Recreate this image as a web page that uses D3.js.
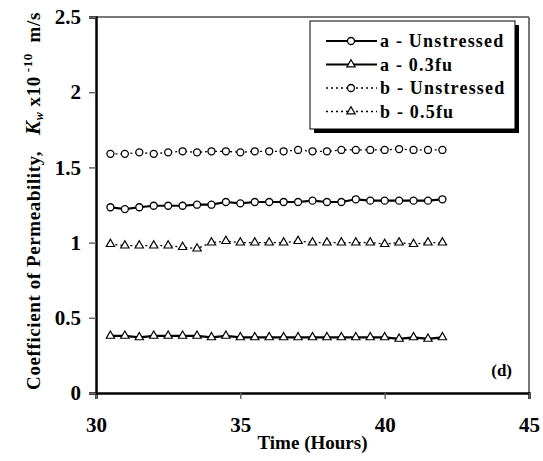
<!DOCTYPE html>
<meta charset="utf-8">
<style>
  body { margin: 0; background: #fff; }
  text { font-family: "Liberation Serif", "Times New Roman", serif; font-weight: bold; white-space: pre; }
</style>
<div id="my_dataviz"></div>
<script src="https://d3js.org/d3.v7.min.js"></script>
<script>

// data
var hours = [30.5, 31, 31.5, 32, 32.5, 33, 33.5, 34, 34.5, 35, 35.5, 36,
             36.5, 37, 37.5, 38, 38.5, 39, 39.5, 40, 40.5, 41, 41.5, 42];
var aUnstressed = [1.235, 1.223, 1.235, 1.245, 1.245, 1.245, 1.252, 1.252, 1.270, 1.261, 1.270, 1.270,
                   1.270, 1.270, 1.279, 1.270, 1.270, 1.288, 1.279, 1.279, 1.279, 1.279, 1.279, 1.288];
var a03fu = [0.38, 0.38, 0.37, 0.38, 0.38, 0.38, 0.38, 0.37, 0.38, 0.37, 0.37, 0.37,
             0.37, 0.37, 0.37, 0.37, 0.37, 0.37, 0.37, 0.37, 0.36, 0.37, 0.36, 0.37];
var bUnstressed = [1.590, 1.590, 1.600, 1.590, 1.600, 1.607, 1.600, 1.607, 1.607, 1.600, 1.607, 1.607,
                   1.607, 1.616, 1.607, 1.607, 1.616, 1.616, 1.616, 1.616, 1.622, 1.616, 1.616, 1.616];
var b05fu = [0.99, 0.98, 0.98, 0.98, 0.98, 0.97, 0.96, 1.00, 1.01, 1.00, 1.00, 1.00,
             1.00, 1.01, 1.00, 1.00, 1.00, 1.00, 1.00, 0.99, 1.00, 0.99, 1.00, 1.00];
var xTicks = [30, 35, 40, 45];
var yTicks = [0, 0.5, 1, 1.5, 2, 2.5];

var series = [
  {name: "a - Unstressed", values: aUnstressed, marker: "circle", dashed: false},
  {name: "a - 0.3fu", values: a03fu, marker: "triangle", dashed: false},
  {name: "b - Unstressed", values: bUnstressed, marker: "circle", dashed: true},
  {name: "b - 0.5fu", values: b05fu, marker: "triangle", dashed: true}
];

var margin = {top: 17, right: 14, bottom: 68, left: 96},
  width = 543 - margin.left - margin.right,
  height = 461 - margin.top - margin.bottom;

var root = d3.select("#my_dataviz")
  .append("svg")
    .attr("width", 543)
    .attr("height", 461);
var svg = root.append("g")
    .attr("transform", "translate(" + margin.left + "," + margin.top + ")");

var x = d3.scaleLinear().domain([30, 45]).range([0, width]);
var y = d3.scaleLinear().domain([0, 2.5]).range([height, 0]);

// grey frame top / right
svg.append("line").attr("x1", 0).attr("x2", width).attr("y1", 0).attr("y2", 0)
  .style("stroke", "#777").style("stroke-width", 2);
svg.append("line").attr("x1", width).attr("x2", width).attr("y1", 0).attr("y2", height)
  .style("stroke", "#777").style("stroke-width", 2);

// axes
var xAxis = svg.append("g")
  .attr("transform", "translate(0," + height + ")")
  .call(d3.axisBottom(x).tickValues(xTicks).tickSize(6).tickPadding(18).tickFormat(d3.format("d")));
var yAxis = svg.append("g")
  .call(d3.axisLeft(y).tickValues(yTicks).tickSize(7).tickPadding(8).tickFormat(function(d) { return d; }));

[xAxis, yAxis].forEach(function(ax) {
  ax.select(".domain").style("stroke", "#000").style("stroke-width", 2.5);
  ax.selectAll(".tick line").style("stroke", "#666").style("stroke-width", 1.5);
  ax.selectAll(".tick text").style("font-size", "21px").style("fill", "#000")
    .style("font-family", "Liberation Serif").style("font-weight", "bold");
});

// lines
var line = d3.line()
  .x(function(d, i) { return x(hours[i]); })
  .y(function(d) { return y(d); });

var tri = d3.symbol().type(d3.symbolTriangle).size(30);

series.forEach(function(s) {
  svg.append("path")
    .datum(s.values)
    .attr("d", line)
    .style("fill", "none")
    .style("stroke", "#000")
    .style("stroke-width", s.dashed ? 1.3 : 2.2)
    .style("stroke-dasharray", s.dashed ? "2,3" : null);

  var g = svg.append("g");
  if (s.marker == "circle") {
    g.selectAll("circle").data(s.values).enter().append("circle")
      .attr("cx", function(d, i) { return x(hours[i]); })
      .attr("cy", function(d) { return y(d); })
      .attr("r", 3.5)
      .style("fill", "#fff").style("stroke", "#000").style("stroke-width", 1.3);
  } else {
    g.selectAll("path").data(s.values).enter().append("path")
      .attr("d", tri)
      .attr("transform", function(d, i) { return "translate(" + x(hours[i]) + "," + y(d) + ")"; })
      .style("fill", "#fff").style("stroke", "#000").style("stroke-width", 1.2);
  }
});

// legend
var lg = root.append("g").attr("transform", "translate(310,21)");
lg.append("rect").attr("x", 4).attr("y", 4).attr("width", 205).attr("height", 108).style("fill", "#000");
lg.append("rect").attr("x", 0).attr("y", 0).attr("width", 205).attr("height", 108)
  .style("fill", "#fff").style("stroke", "#000").style("stroke-width", 1);

series.forEach(function(s, i) {
  var ly = 20 + i * 23.5;
  lg.append("line").attr("x1", 16).attr("x2", 67).attr("y1", ly).attr("y2", ly)
    .style("stroke", "#000")
    .style("stroke-width", s.dashed ? 1.3 : 2.2)
    .style("stroke-dasharray", s.dashed ? "2,3" : null);
  if (s.marker == "circle") {
    lg.append("circle").attr("cx", 41).attr("cy", ly).attr("r", 3.5)
      .style("fill", "#fff").style("stroke", "#000").style("stroke-width", 1.3);
  } else {
    lg.append("path").attr("d", tri).attr("transform", "translate(41," + ly + ")")
      .style("fill", "#fff").style("stroke", "#000").style("stroke-width", 1.2);
  }
  lg.append("text").attr("x", 70).attr("y", ly + 6)
    .style("font-size", "18px").style("letter-spacing", "1.2px")
    .text(s.name);
});

// panel label
svg.append("text").attr("x", width - 17).attr("y", height - 17)
  .attr("text-anchor", "end").style("font-size", "17px").text("(d)");

// axis titles
root.append("text").attr("x", margin.left + width / 2).attr("y", 449)
  .attr("text-anchor", "middle").style("font-size", "19px").text("Time (Hours)");

var yt = root.append("text")
  .attr("transform", "translate(40,201) rotate(-90)")
  .attr("text-anchor", "middle").style("font-size", "19px").style("letter-spacing", "0.6px");
yt.append("tspan").text("Coefficient of Permeability,   ");
yt.append("tspan").style("font-style", "italic").style("font-size", "21px").text("K");
yt.append("tspan").style("font-style", "italic").style("font-size", "12px").attr("dy", 3).text("w");
yt.append("tspan").attr("dy", -3).text(" x10");
yt.append("tspan").style("font-size", "13px").attr("dy", -8).text(" -10");
yt.append("tspan").attr("dy", 8).text("  m/s");

</script>
